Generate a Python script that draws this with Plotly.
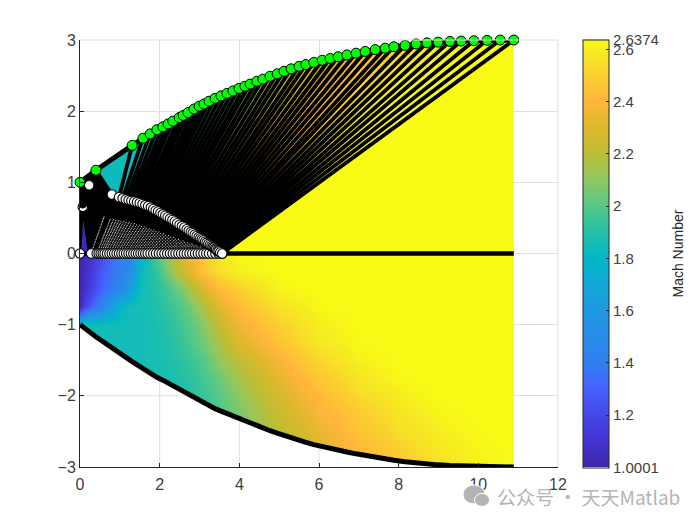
import numpy as np
import plotly.graph_objects as go
from plotly.colors import sample_colorscale

# wall points (top half; the lower wall is its mirror image)
wall_x = [0, .40, 1.31, 1.58, 1.76, 1.93, 2.08, 2.21, 2.33, 2.49, 2.59, 2.71, 2.86, 2.99, 3.11, 3.24, 3.39,
          3.54, 3.69, 3.84, 3.99, 4.14, 4.27, 4.44, 4.59, 4.77, 4.95, 5.12, 5.30, 5.50, 5.67, 5.87, 6.08, 6.28,
          6.48, 6.70, 6.93, 7.16, 7.41, 7.66, 7.88, 8.16, 8.44, 8.71, 8.99, 9.29, 9.57, 9.89, 10.22, 10.55, 10.89]
wall_y = [1.0, 1.17, 1.52, 1.62, 1.68, 1.74, 1.78, 1.82, 1.86, 1.91, 1.94, 1.98, 2.03, 2.07, 2.10, 2.14, 2.18,
          2.215, 2.25, 2.285, 2.32, 2.35, 2.38, 2.42, 2.45, 2.49, 2.525, 2.56, 2.595, 2.63, 2.655, 2.685, 2.715, 2.74,
          2.765, 2.79, 2.815, 2.84, 2.865, 2.885, 2.905, 2.925, 2.945, 2.96, 2.97, 2.98, 2.985, 2.99, 2.995, 3.0, 3.0]
# last left-running characteristic (upper row of white points)
last_x = [.80, .98, 1.07, 1.15, 1.22, 1.29, 1.36, 1.43, 1.50, 1.57, 1.64, 1.71, 1.78, 1.84, 1.90, 1.96, 2.02,
          2.08, 2.14, 2.20, 2.26, 2.32, 2.38, 2.44, 2.50, 2.56, 2.62, 2.68, 2.73, 2.78, 2.83, 2.88, 2.93, 2.98,
          3.02, 3.06, 3.10, 3.14, 3.18, 3.22, 3.26, 3.30, 3.33, 3.36, 3.39, 3.42, 3.45, 3.48, 3.52, 3.57]
last_y = [.83, .79, .775, .76, .75, .74, .73, .72, .71, .695, .68, .665, .645, .625, .605, .59, .57,
          .55, .53, .51, .49, .47, .45, .425, .405, .385, .365, .34, .32, .30, .285, .265, .245, .23,
          .215, .20, .185, .165, .15, .135, .12, .105, .09, .08, .065, .055, .04, .03, .015, 0]
# axis points
axis_x = [.28, .42, .47, .52, .57, .62, .68, .74, .80, .86, .92, .98, 1.04, 1.10, 1.16, 1.22, 1.28,
          1.34, 1.40, 1.46, 1.52, 1.58, 1.64, 1.70, 1.77, 1.84, 1.91, 1.98, 2.05, 2.12, 2.19, 2.26, 2.33, 2.40,
          2.47, 2.54, 2.61, 2.68, 2.75, 2.82, 2.89, 2.96, 3.03, 3.10, 3.17, 3.24, 3.32, 3.40, 3.48, 3.57]
# Mach number in the band between each ray and the next
ray_mach = [1.84, 1.84, 1.84, 1.85, 1.85, 1.86, 1.86, 1.87, 1.87, 1.88, 1.89, 1.90, 1.91, 1.93, 1.95, 1.97, 1.99,
            2.01, 2.03, 2.05, 2.07, 2.09, 2.11, 2.13, 2.15, 2.17, 2.19, 2.21, 2.23, 2.25, 2.27, 2.29, 2.31, 2.33,
            2.36, 2.38, 2.41, 2.44, 2.47, 2.50, 2.53, 2.56, 2.58, 2.60, 2.61, 2.62, 2.63, 2.635, 2.637, 2.637]

field_x = [0, .1, .25, .5, .75, 1, 1.25, 1.5, 1.75, 2, 2.5, 3, 3.5, 4, 5, 6, 7, 8, 9, 10, 10.89]
field_y = [0, -.25, -.5, -.75, -1, -1.25, -1.5, -1.75, -2, -2.25, -2.5, -2.75, -3]
T = 2.637
field_mach = [
    [1.00, 1.03, 1.08, 1.20, 1.30, 1.38, 1.48, 1.75, 1.90, 2.03, 2.26, 2.44, 2.58, 2.63, T, T, T, T, T, T, T],
    [1.01, 1.05, 1.12, 1.25, 1.35, 1.42, 1.50, 1.82, 1.88, 1.97, 2.22, 2.43, 2.55, 2.61, T, T, T, T, T, T, T],
    [1.02, 1.07, 1.15, 1.28, 1.38, 1.45, 1.62, 1.84, 1.87, 1.92, 2.05, 2.26, 2.42, 2.50, 2.62, T, T, T, T, T, T],
    [1.03, 1.15, 1.28, 1.42, 1.60, 1.80, 1.85, 1.86, 1.87, 1.90, 1.98, 2.13, 2.32, 2.43, 2.56, 2.63, T, T, T, T, T],
    [1.80, 1.85, 1.85, 1.85, 1.85, 1.85, 1.85, 1.85, 1.86, 1.88, 1.95, 2.06, 2.22, 2.36, 2.50, 2.60, 2.635, T, T, T, T],
    [1.85, 1.85, 1.85, 1.85, 1.85, 1.85, 1.85, 1.85, 1.86, 1.87, 1.93, 2.03, 2.16, 2.30, 2.45, 2.58, 2.63, T, T, T, T],
    [1.85, 1.85, 1.85, 1.85, 1.85, 1.85, 1.85, 1.85, 1.86, 1.87, 1.91, 1.98, 2.10, 2.21, 2.38, 2.52, 2.61, 2.635, T, T, T],
    [1.85, 1.85, 1.85, 1.85, 1.85, 1.85, 1.85, 1.85, 1.85, 1.86, 1.89, 1.95, 2.04, 2.15, 2.33, 2.47, 2.57, 2.63, T, T, T],
    [1.85, 1.85, 1.85, 1.85, 1.85, 1.85, 1.85, 1.85, 1.85, 1.86, 1.88, 1.93, 2.00, 2.10, 2.28, 2.42, 2.53, 2.60, 2.635, T, T],
    [1.85, 1.85, 1.85, 1.85, 1.85, 1.85, 1.85, 1.85, 1.85, 1.86, 1.88, 1.93, 1.98, 2.06, 2.24, 2.38, 2.48, 2.57, 2.62, T, T],
    [1.85, 1.85, 1.85, 1.85, 1.85, 1.85, 1.85, 1.85, 1.85, 1.86, 1.88, 1.93, 1.98, 2.05, 2.20, 2.34, 2.45, 2.54, 2.60, 2.63, T],
    [1.85, 1.85, 1.85, 1.85, 1.85, 1.85, 1.85, 1.85, 1.85, 1.86, 1.88, 1.93, 1.98, 2.05, 2.20, 2.30, 2.41, 2.50, 2.58, 2.62, 2.635],
    [1.85, 1.85, 1.85, 1.85, 1.85, 1.85, 1.85, 1.85, 1.85, 1.86, 1.88, 1.93, 1.98, 2.05, 2.20, 2.30, 2.41, 2.47, 2.55, 2.61, T],
]
mach_ticks = [1.0001, 1.2, 1.4, 1.6, 1.8, 2, 2.2, 2.4, 2.6, 2.6374]
mach_labels = ["1.0001", "1.2", "1.4", "1.6", "1.8", "2", "2.2", "2.4", "2.6", "2.6374"]
mach_min, mach_max = 1.0001, 2.6374
scale = [[0, "#3E26A8"], [.06, "#4434D2"], [.122, "#4448E8"], [.183, "#4860FF"], [.244, "#3080F0"], [.366, "#2098E0"],
         [.427, "#12A8D8"], [.488, "#00B8C8"], [.55, "#25C0A5"], [.61, "#55C888"], [.672, "#90C860"], [.733, "#BDBD35"],
         [.794, "#DDB82C"], [.855, "#FFB63A"], [.916, "#FBD030"], [.977, "#F6EE20"], [1, "#F9FB15"]]


def mach_color(m):
    return sample_colorscale(scale, [(m - mach_min) / (mach_max - mach_min)])[0]


GRID = "#DFDFDF"
wall_x, wall_y = np.array(wall_x), np.array(wall_y)
last_x, last_y = np.array(last_x), np.array(last_y)
axis_x = np.array(axis_x)
N = len(axis_x)

fig = go.Figure()
z = np.array(field_mach)
fig.add_trace(go.Heatmap(
    x=field_x + [field_x[-1] + 1e-3], y=field_y[::-1],
    z=np.column_stack([z, z[:, -1]])[::-1], zmin=mach_min, zmax=mach_max, zsmooth="best", colorscale=scale,
    hoverinfo="skip",
    colorbar=dict(thickness=25.5, thicknessmode="pixels", len=428, lenmode="pixels", x=1.0523, xanchor="left",
                  y=.5, yanchor="middle", xpad=0, ypad=0, outlinecolor="#262626", outlinewidth=1,
                  ticks="inside", ticklen=3, tickcolor="#262626", tickwidth=1,
                  tickmode="array", tickvals=mach_ticks, ticktext=mach_labels, tickprefix="\u2009",
                  tickfont=dict(family="Liberation Sans", size=15, color="#404040"))))
# white below the lower wall
fig.add_trace(go.Scatter(x=list(wall_x) + [wall_x[-1], 0], y=list(-wall_y) + [-3, -3], mode="lines", fill="toself",
                         fillcolor="white", line=dict(width=0), hoverinfo="skip", showlegend=False))
# grid where the white cover hides it
gx, gy = [], []
for v in (2, 4, 6, 8, 10):
    gx += [v, v, None]
    gy += [-np.interp(v, wall_x, wall_y), -3, None]
gx += [0, np.interp(2, wall_y, wall_x), None]
gy += [-2, -2, None]
fig.add_trace(go.Scatter(x=gx, y=gy, mode="lines", line=dict(color=GRID, width=1), hoverinfo="skip", showlegend=False))

# uniform yellow region
fig.add_trace(go.Scatter(x=[last_x[-1], wall_x[-1], wall_x[-1]], y=[0, wall_y[-1], 0], mode="lines", fill="toself",
                         fillcolor=mach_color(mach_max), line=dict(width=0), hoverinfo="skip", showlegend=False))
# bands between successive rays
for k in range(N - 1):
    xs = [last_x[k], wall_x[k + 1], wall_x[k + 2], last_x[k + 1]]
    ys = [last_y[k], wall_y[k + 1], wall_y[k + 2], last_y[k + 1]]
    fig.add_trace(go.Scatter(x=xs, y=ys, mode="lines", fill="toself", fillcolor=mach_color(ray_mach[k]),
                             line=dict(width=0), hoverinfo="skip", showlegend=False))
# black throat region and the blue wedge in it
fig.add_trace(go.Scatter(x=[0, 0, .40, .80, 1.2, 3.57, .28], y=[0, 1, 1.17, .83, .7, 0, 0], mode="lines", fill="toself",
                         fillcolor="black", line=dict(width=0), hoverinfo="skip", showlegend=False))
fig.add_trace(go.Scatter(x=[.03, .08, .2], y=[0, .47, 0], mode="lines", fill="toself",
                         fillcolor=mach_color(1.03), line=dict(width=0), hoverinfo="skip", showlegend=False))

# characteristic net
net = {}
for i in range(N):
    steps = N - 1 - i
    for j in range(i, N):
        if j == N - 1:
            t = 1.0
        else:
            t = .62 * (j - i) / max(steps - 1, 1)
        net[i, j] = (axis_x[i] + t * (last_x[i] - axis_x[i]), t * last_y[i])

lx, ly = [], []
for i in range(N):
    for j in range(i, N):
        lx.append(net[i, j][0]); ly.append(net[i, j][1])
    lx.append(None); ly.append(None)
for j in range(N):
    for i in range(j + 1):
        lx.append(net[i, j][0]); ly.append(net[i, j][1])
    lx.append(None); ly.append(None)
for k in range(N):
    lx += [last_x[k], wall_x[k + 1], None]
    ly += [last_y[k], wall_y[k + 1], None]
fig.add_trace(go.Scatter(x=lx, y=ly, mode="lines", line=dict(color="black", width=3.8), hoverinfo="skip",
                         showlegend=False, cliponaxis=False))
# walls and centreline
for sgn in (1, -1):
    fig.add_trace(go.Scatter(x=wall_x, y=sgn * wall_y, mode="lines", line=dict(color="black", width=5),
                             hoverinfo="skip", showlegend=False, cliponaxis=False))
fig.add_trace(go.Scatter(x=[0, wall_x[-1]], y=[0, 0], mode="lines", line=dict(color="black", width=4.5),
                         hoverinfo="skip", showlegend=False))

# interior net points show only as specks
ij = [(i, j) for i in range(N) for j in range(i + 1, N - 1) if (i + j) % 2 == 0]
fig.add_trace(go.Scatter(x=[net[p][0] for p in ij], y=[net[p][1] for p in ij], mode="markers", hoverinfo="skip",
                         showlegend=False, marker=dict(size=1.3, color="white", line=dict(width=0), opacity=.75)))
# axis row, upper row and the separate throat points
ps = dict(size=9.5, color="white", line=dict(color="black", width=1.1))
fig.add_trace(go.Scatter(x=[0, .23, .07] + list(axis_x), y=[0, .96, .655] + [0] * N, mode="markers",
                         hoverinfo="skip", showlegend=False, cliponaxis=False, marker=ps))
fig.add_trace(go.Scatter(x=[.07], y=[.70], mode="markers", hoverinfo="skip", showlegend=False,
                         marker=dict(size=9.5, color="black")))
fig.add_trace(go.Scatter(x=last_x, y=last_y, mode="markers", hoverinfo="skip", showlegend=False, cliponaxis=False,
                         marker=ps))
fig.add_trace(go.Scatter(x=wall_x, y=wall_y, mode="markers", hoverinfo="skip", showlegend=False, cliponaxis=False,
                         marker=dict(size=10, color="#00FF00", line=dict(color="black", width=1))))

# box edges in grid colour
shapes = [dict(type="line", xref="paper", yref="paper", x0=0, x1=1, y0=1, y1=1, line=dict(color=GRID, width=1)),
          dict(type="line", xref="paper", yref="paper", x0=1, x1=1, y0=0, y1=1, line=dict(color=GRID, width=1))]
L, R, T_, B = 80, 558, 39.5, 467.5
PAGE = 8  # the page body's own margin


def pax(v):
    return (v - L) / (R - L)


def pay(v):
    return (B - v) / (B - T_)


wm = "#B4B4B4"
for cx, cy, rx, ry in ((474, 495, 11, 9.5), (482, 500.5, 7.5, 6.5)):
    shapes.append(dict(type="circle", xref="paper", yref="paper", x0=pax(cx - rx), x1=pax(cx + rx),
                       y0=pay(cy + ry), y1=pay(cy - ry), fillcolor=wm, line=dict(color="white", width=1), layer="above"))
annos = [dict(text="公众号 · 天天Matlab", x=pax(495), y=pay(497), xref="paper", yref="paper", xanchor="left",
              yanchor="middle", showarrow=False, font=dict(family="Noto Sans CJK SC", size=19, color=wm)),
         dict(text="Mach Number", x=pax(677), y=pay(253.5), xref="paper", yref="paper", xanchor="center", yanchor="middle",
              textangle=-90, showarrow=False, font=dict(family="Liberation Sans", size=14, color="#262626"))]

axfont = dict(family="Liberation Sans", size=16, color="#404040")
fig.update_layout(
    width=700 - PAGE, height=525 - PAGE, autosize=False, paper_bgcolor="white", plot_bgcolor="white", showlegend=False,
    margin=dict(l=L - PAGE, r=700 - R, t=T_ - PAGE, b=525 - B), shapes=shapes, annotations=annos,
    xaxis=dict(range=[0, 12], tickvals=[0, 2, 4, 6, 8, 10, 12], showgrid=True, gridcolor=GRID, gridwidth=1,
               zeroline=False, showline=True, linecolor="#262626", linewidth=1, ticks="inside", ticklen=4,
               tickcolor="#262626", tickfont=axfont, ticklabelstandoff=3),
    yaxis=dict(range=[-3, 3], tickvals=[-3, -2, -1, 0, 1, 2, 3], showgrid=True, gridcolor=GRID, gridwidth=1,
               zeroline=False, showline=True, linecolor="#262626", linewidth=1, ticks="inside", ticklen=4,
               tickcolor="#262626", tickfont=axfont))
fig.write_html("out.html")
